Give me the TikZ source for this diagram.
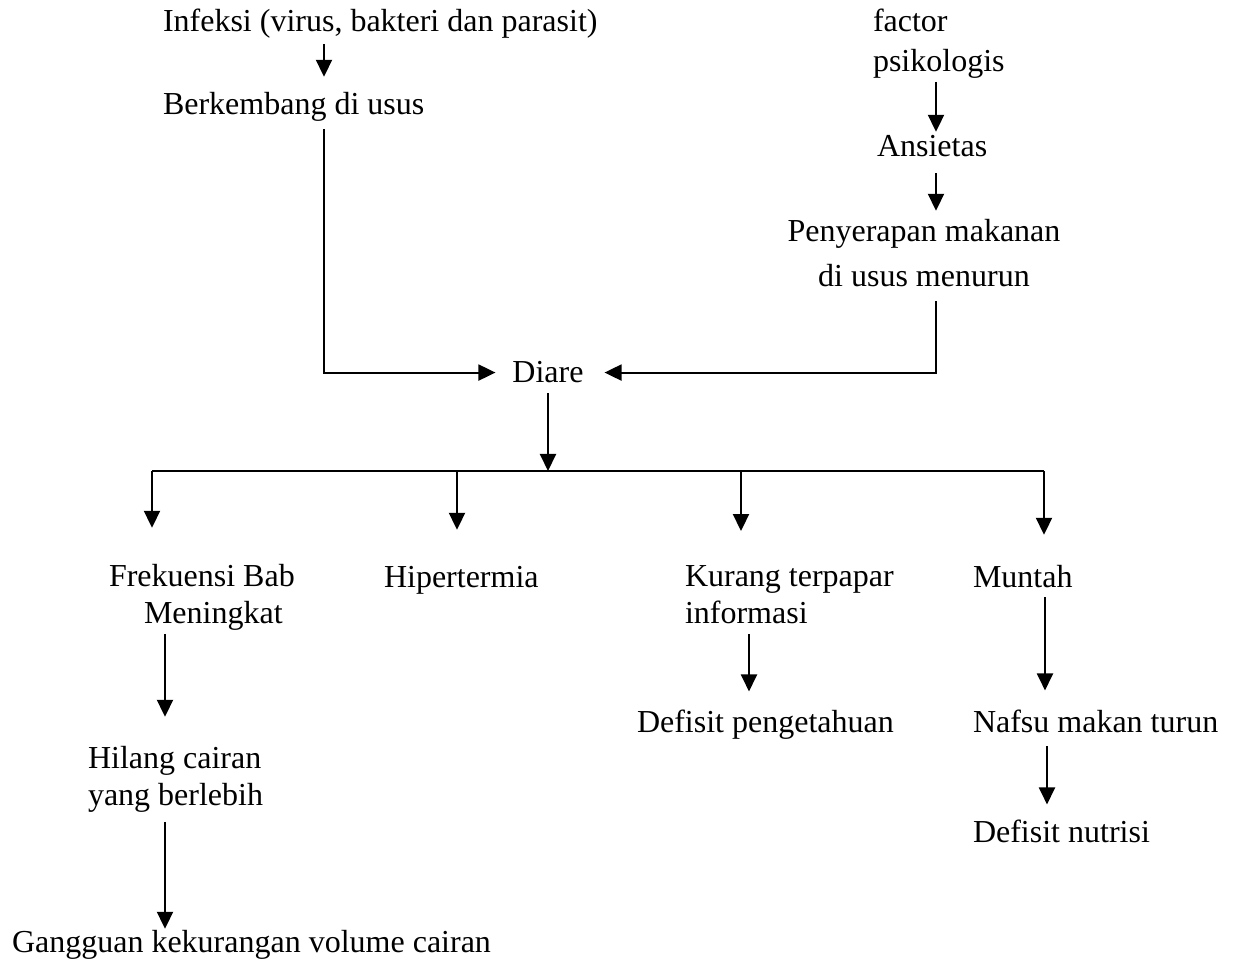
\documentclass[tikz,border=0pt]{standalone}
\usepackage{fontspec}
\setmainfont{Liberation Serif}
\usetikzlibrary{arrows.meta, calc}

\begin{document}
\begin{tikzpicture}[x=0.5pt, y=-0.5pt, line width=1pt,
					arr/.style = {-{Triangle[length=8.5pt, width=8pt]}},
					every node/.style = {inner sep=0pt, font=\fontsize{16}{18.5}\selectfont}]
					\useasboundingbox (0,0) rectangle (1237,962);
					
					\coordinate (kiri) at (324,0);
					\coordinate (kanan) at (936,0);
					\coordinate (b1) at (152,471);
					\coordinate (b2) at (457,471);
					\coordinate (b3) at (741,471);
					\coordinate (b4) at (1044,471);
					\coordinate (bm) at (548,471);
					
					\begin{scope}
						\node [anchor=base west] (infeksi) at (162,32) {Infeksi (virus, bakteri dan parasit)};
						\node [anchor=base west] (berkembang) at (162,115) {Berkembang di usus};
						\node [anchor=base west, align=left] (faktor) at (872,72) {factor\\[1.5pt]psikologis};
						\node [anchor=base west] (ansietas) at (876,157) {Ansietas};
						\node [anchor=base, align=center] (serap) at (924,287) {Penyerapan makanan\\[4pt]di usus menurun};
						\node [anchor=base] (diare) at (548,383) {Diare};
					\end{scope}
					
					\begin{scope}
						\node [anchor=base west, align=left] (frekuensi) at (108,623) {Frekuensi Bab\\\hspace*{17.5pt}Meningkat};
						\node [anchor=base west] (hipertermia) at (383,587) {Hipertermia};
						\node [anchor=base west, align=left] (kurang) at (684,623) {Kurang terpapar\\informasi};
						\node [anchor=base west] (muntah) at (972,587) {Muntah};
						\node [anchor=base west, align=left] (hilang) at (87,805) {Hilang cairan\\yang berlebih};
						\node [anchor=base west] (gangguan) at (11,952) {Gangguan kekurangan volume cairan};
						\node [anchor=base west] (defisitP) at (636,732) {Defisit pengetahuan};
						\node [anchor=base west] (nafsu) at (972,732) {Nafsu makan turun};
						\node [anchor=base west] (defisitN) at (972,842) {Defisit nutrisi};
					\end{scope}
					
					\begin{scope}
						\draw [arr, shorten <=2pt, shorten >=7.5pt] (infeksi.south -| kiri) -- (berkembang.north -| kiri);
						\draw [arr, shorten <=3pt, shorten >=8pt] (berkembang.south -| kiri) |- (diare.west);
						\draw [arr, shorten <=1pt, shorten >=1.5pt] (faktor.south -| kanan) -- (ansietas.north -| kanan);
						\draw [arr, shorten <=7.5pt, shorten >=4pt] (ansietas.south -| kanan) -- (serap.north -| kanan);
						\draw [arr, shorten <=6.5pt, shorten >=10pt] (serap.south -| kanan) |- (diare.east);
						\draw [arr, shorten <=4.5pt] (diare.south) -- (bm);
						\draw (b1) -- (b4);
					\end{scope}
					
					\begin{scope}
						\draw [arr, shorten >=17.5pt] (b1) -- (frekuensi.north -| b1);
						\draw [arr, shorten >=17.5pt] (b2) -- (hipertermia.north -| b2);
						\draw [arr, shorten >=16.5pt] (b3) -- (kurang.north -| b3);
						\draw [arr, shorten >=14.5pt] (b4) -- (muntah.north -| b4);
						\draw [arr, shorten <=1.5pt, shorten >=14pt] ($(frekuensi.south west)+(57,0)$) -- ($(hilang.north west)+(78,0)$);
						\draw [arr, shorten <=4.5pt] ($(hilang.south west)+(78,0)$) -- ($(gangguan.north west)+(154,0)$);
						\draw [arr, shorten <=5pt, shorten >=8.5pt] ($(kurang.south west)+(65,0)$) -- ($(defisitP.north west)+(113,0)$);
						\draw [arr, shorten <=4.5pt, shorten >=9pt] ($(muntah.south west)+(73,0)$) -- ($(nafsu.north west)+(73,0)$);
						\draw [arr, shorten <=6.5pt, shorten >=7pt] ($(nafsu.south west)+(75,0)$) -- ($(defisitN.north west)+(75,0)$);
					\end{scope}
				\end{tikzpicture}
\end{document}
